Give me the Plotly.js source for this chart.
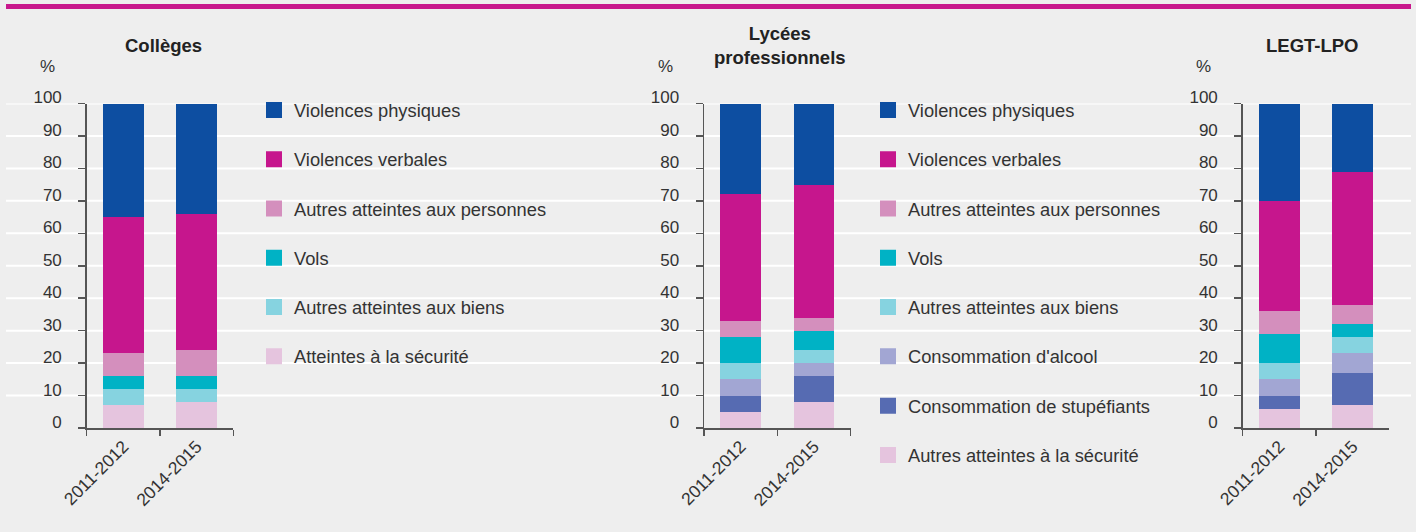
<!DOCTYPE html>
<html>
<head>
<meta charset="utf-8">
<script src="https://cdn.plot.ly/plotly-3.0.1.min.js"></script>
<style>html,body{margin:0;padding:0;background:#eeeeee;}#chart{width:1416px;height:532px;}</style>
</head>
<body>
<div id="chart"></div>
<script>
// ---------- DATA ----------
const categories = ['2011-2012', '2014-2015'];
const yTicks = [0, 10, 20, 30, 40, 50, 60, 70, 80, 90, 100];

// stacking order: bottom -> top
const seriesColleges = ['Atteintes à la sécurité', 'Autres atteintes aux biens', 'Vols',
  'Autres atteintes aux personnes', 'Violences verbales', 'Violences physiques'];
const colleges2011 = [7, 5, 4, 7, 42, 35];
const colleges2014 = [8, 4, 4, 8, 42, 34];

const seriesLycees = ['Autres atteintes à la sécurité', 'Consommation de stupéfiants', "Consommation d'alcool",
  'Autres atteintes aux biens', 'Vols', 'Autres atteintes aux personnes', 'Violences verbales', 'Violences physiques'];
const lp2011 = [5, 5, 5, 5, 8, 5, 39, 28];
const lp2014 = [8, 8, 4, 4, 6, 4, 41, 25];
const legt2011 = [6, 4, 5, 5, 9, 7, 34, 30];
const legt2014 = [7, 10, 6, 5, 4, 6, 41, 21];

const panelTitles = ['Collèges', 'Lycées<br>professionnels', 'LEGT-LPO'];

// ---------- STYLE ----------
const colorsColleges = ['#e5c4de', '#86d3e0', '#00b2c5', '#d48fbd', '#c6168d', '#0d4ea1'];
const colorsLycees = ['#e5c4de', '#566bb2', '#a2a6d3', '#86d3e0', '#00b2c5', '#d48fbd', '#c6168d', '#0d4ea1'];

const W = 1416, H = 532;
const px = v => v / W;
const py = v => (H - v) / H;
const FONT = '"Liberation Sans", Arial, sans-serif';
const TXT = '#333333';
const AX = '#555555';

const traces = [];
function addPanel(names, colors, v2011, v2014, xa, ya) {
  names.forEach((n, i) => {
    traces.push({
      type: 'bar', name: n, x: categories, y: [v2011[i], v2014[i]],
      xaxis: xa, yaxis: ya, marker: {color: colors[i], line: {width: 0}},
      showlegend: false, hoverinfo: 'skip'
    });
  });
}
addPanel(seriesColleges, colorsColleges, colleges2011, colleges2014, 'x', 'y');
addPanel(seriesLycees, colorsLycees, lp2011, lp2014, 'x2', 'y2');
addPanel(seriesLycees, colorsLycees, legt2011, legt2014, 'x3', 'y3');

// legend entries (top -> bottom = reverse of stacking)
function addLegend(names, colors, legendId) {
  for (let i = names.length - 1; i >= 0; i--) {
    traces.push({
      type: 'scatter', mode: 'markers', name: names[i], x: [null], y: [null],
      xaxis: 'x', yaxis: 'y', legend: legendId, legendgroup: legendId + '_' + i,
      marker: {symbol: 'square', size: 16, color: colors[i]},
      showlegend: true, hoverinfo: 'skip'
    });
  }
}
addLegend(seriesColleges, colorsColleges, 'legend');
addLegend(seriesLycees, colorsLycees, 'legend2');

const yDomain = [py(428), py(103.5)];
function xAxis(d0, d1) {
  return {
    domain: [px(d0), px(d1)], type: 'category', range: [-0.5, 1.5],
    showline: true, linecolor: AX, linewidth: 1.5,
    ticks: 'outside', tickson: 'boundaries', ticklen: 6, tickcolor: AX, tickwidth: 1.5,
    tickangle: -45, tickfont: {family: FONT, size: 17.5, color: TXT},
    showgrid: false, zeroline: false, fixedrange: true
  };
}
function yAxis(anchor) {
  return {
    domain: yDomain, anchor: anchor, range: [0, 100], tickmode: 'array', tickvals: yTicks,
    showline: true, linecolor: AX, linewidth: 1.5,
    ticks: 'outside', ticklen: 7, tickcolor: AX, tickwidth: 1.5,
    ticklabelshift: -6, ticklabelstandoff: 13,
    tickfont: {family: FONT, size: 17, color: TXT},
    showgrid: false, zeroline: false, fixedrange: true
  };
}

const shapes = [];
// full-width white gridlines
yTicks.filter(t => t > 0).forEach(t => {
  shapes.push({type: 'line', xref: 'paper', yref: 'y', x0: px(6), x1: px(1411), y0: t, y1: t,
    line: {color: '#ffffff', width: 2}, layer: 'below'});
});
// top magenta rule
shapes.push({type: 'rect', xref: 'paper', yref: 'paper', x0: px(6), x1: px(1411), y0: py(9), y1: py(4),
  fillcolor: '#c8188c', line: {width: 0}, layer: 'above'});

const titleX = [163, 780, 1312];
const pctX = [47, 665, 1203];
const annotations = [];
panelTitles.forEach((t, i) => {
  annotations.push({xref: 'paper', yref: 'paper', x: px(titleX[i]), y: py(45), xanchor: 'center', yanchor: 'middle',
    text: '<b>' + t + '</b>', showarrow: false, font: {family: FONT, size: 18.5, color: '#222222'}});
  annotations.push({xref: 'paper', yref: 'paper', x: px(pctX[i]), y: py(66), xanchor: 'center', yanchor: 'middle',
    text: '%', showarrow: false, font: {family: FONT, size: 17, color: TXT}});
});

const legendCommon = {
  bgcolor: 'rgba(0,0,0,0)', borderwidth: 0, traceorder: 'grouped', tracegroupgap: 22.5,
  font: {family: FONT, size: 18.3, color: TXT}, xanchor: 'left', yanchor: 'top', itemclick: false, itemdoubleclick: false
};

const layout = {
  width: W, height: H, margin: {l: 0, r: 0, t: 0, b: 0},
  paper_bgcolor: '#eeeeee', plot_bgcolor: 'rgba(0,0,0,0)',
  barmode: 'stack', bargap: 0.445, showlegend: true,
  xaxis: xAxis(86.7, 233.3), yaxis: yAxis('x'),
  xaxis2: xAxis(704, 850.7), yaxis2: yAxis('x2'),
  xaxis3: xAxis(1242.7, 1389.3), yaxis3: yAxis('x3'),
  legend: Object.assign({}, legendCommon, {x: px(254), y: py(91.5)}),
  legend2: Object.assign({}, legendCommon, {x: px(868), y: py(91.5)}),
  shapes: shapes, annotations: annotations
};
layout.xaxis2.anchor = 'y2'; layout.xaxis3.anchor = 'y3'; layout.xaxis.anchor = 'y';

Plotly.newPlot('chart', traces, layout, {displayModeBar: false, staticPlot: true});
</script>
</body>
</html>
